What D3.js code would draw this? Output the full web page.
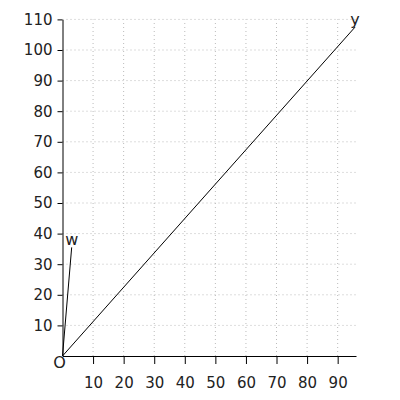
<!DOCTYPE html>
<html>
<head>
<meta charset="utf-8">
<script src="https://cdn.jsdelivr.net/npm/d3@7"></script>
<style>
  body { margin: 0; background: #fff; }
  text { font-family: "DejaVu Sans", sans-serif; }
</style>
</head>
<body>
<div id="chart"></div>
<script>
// vectors drawn from the origin
const names = ['y', 'w'];
const endX = [95.7, 3.0];
const endY = [107.5, 35.5];
const xTicks = [10, 20, 30, 40, 50, 60, 70, 80, 90];
const yTicks = [10, 20, 30, 40, 50, 60, 70, 80, 90, 100, 110];

const W = 400, H = 400;

const svg = d3.select('#chart')
    .append('svg')
    .attr('width', W)
    .attr('height', H);

const xScale = d3.scaleLinear().domain([0, 96]).range([62.5, 356]);
const yScale = d3.scaleLinear().domain([0, 110]).range([356, 19.4]);

// dotted grid
svg.append('g')
    .selectAll('line')
    .data(xTicks)
    .enter()
    .append('line')
    .attr('x1', d => xScale(d)).attr('x2', d => xScale(d))
    .attr('y1', yScale(0)).attr('y2', yScale(110))
    .attr('stroke', '#bbb')
    .attr('stroke-dasharray', '1,3');

svg.append('g')
    .selectAll('line')
    .data(yTicks)
    .enter()
    .append('line')
    .attr('x1', xScale(0)).attr('x2', xScale(96))
    .attr('y1', d => yScale(d)).attr('y2', d => yScale(d))
    .attr('stroke', '#bbb')
    .attr('stroke-dasharray', '1,3');

const xAxis = svg.append('g')
    .attr('transform', `translate(0,${yScale(0)})`)
    .call(d3.axisBottom(xScale).tickValues(xTicks).tickSize(8).tickPadding(13).tickSizeOuter(0));

const yAxis = svg.append('g')
    .attr('transform', `translate(${xScale(0)},0)`)
    .call(d3.axisLeft(yScale).tickValues(yTicks).tickSize(5).tickPadding(5).tickSizeOuter(0));

[xAxis, yAxis].forEach(a => {
    a.selectAll('text')
        .style('font-size', '15px')
        .style('font-family', '"DejaVu Sans", sans-serif')
        .attr('fill', '#222');
    a.select('.domain').attr('stroke', '#000');
    a.selectAll('.tick line').attr('stroke', '#000');
});

// vectors
const vecs = names.map((n, i) => ({ name: n, x: endX[i], y: endY[i] }));

svg.append('g')
    .selectAll('line')
    .data(vecs)
    .enter()
    .append('line')
    .attr('x1', xScale(0)).attr('y1', yScale(0))
    .attr('x2', d => xScale(d.x)).attr('y2', d => yScale(d.y))
    .attr('stroke', '#000')
    .attr('stroke-width', 1);

svg.append('g')
    .selectAll('text')
    .data(vecs)
    .enter()
    .append('text')
    .attr('x', d => xScale(d.x))
    .attr('y', d => yScale(d.y) - 2)
    .attr('text-anchor', 'middle')
    .style('font-size', '16px')
    .attr('fill', '#222')
    .text(d => d.name);

svg.append('text')
    .attr('x', xScale(0) - 3)
    .attr('y', yScale(0) + 12)
    .attr('text-anchor', 'middle')
    .style('font-size', '16px')
    .attr('fill', '#222')
    .text('O');
</script>
</body>
</html>
